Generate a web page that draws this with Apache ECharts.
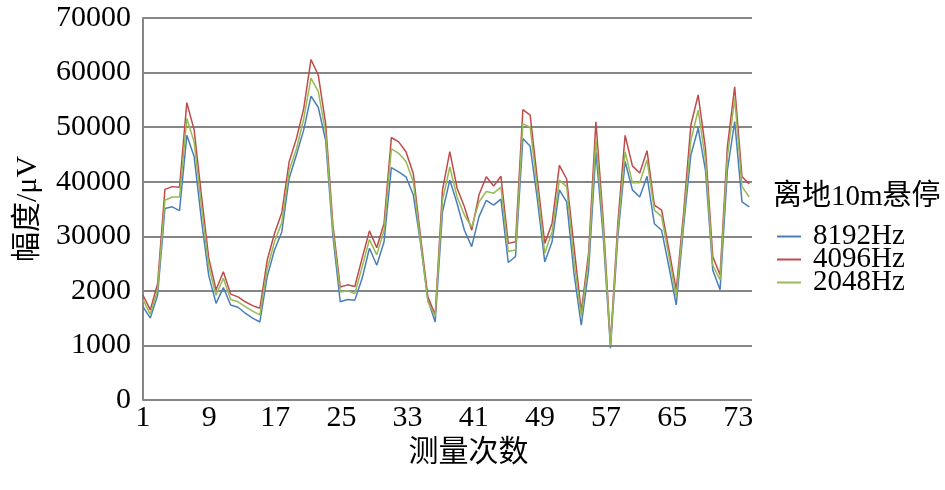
<!DOCTYPE html>
<html>
<head>
<meta charset="utf-8">
<script src="https://cdn.jsdelivr.net/npm/echarts@6/dist/echarts.min.js"></script>
<style>
html,body{margin:0;padding:0;background:#fff;}
#chart{width:945px;height:490px;}
</style>
</head>
<body>
<div id="chart"></div>
<script>
// measurement index of each sample
const measureIndex = [1,2,3,4,5,6,7,8,9,10,11,12,13,14,15,16,17,18,19,20,21,22,23,24,25,26,27,28,29,30,31,32,33,34,35,36,37,38,39,40,41,42,43,44,45,46,47,48,49,50,51,52,53,54,55,56,57,58,59,60,61,62,63,64,65,66,67,68,69,70,71,72,73,74,75,76,77,78,79,80,81,82,83,84];

const hz8192 = [17100,15000,19200,35100,35400,34700,48500,44600,33000,22800,17700,20600,17400,17000,15900,15000,14300,22600,27500,30800,40600,44900,49500,55700,53600,47600,30000,18000,18400,18300,22300,27800,24700,29000,42600,41800,40900,37600,28700,18300,14300,34500,40300,36000,31100,28100,33600,36600,35700,36800,25200,26300,47900,46500,36600,25300,29000,38500,36300,23200,13700,23800,45500,30000,9500,29900,43700,38500,37200,41000,32300,31100,24400,17400,31800,44900,49800,42100,23800,20200,42100,51000,36300,35400];
const hz4096 = [19200,16500,21300,38600,39100,39000,54500,49500,37500,26000,20200,23500,19400,18900,18000,17300,16800,25600,30500,34300,43600,47900,53400,62400,59500,50700,32000,20700,21100,20800,26000,31000,27900,32400,48100,47300,45500,41500,29900,18900,15600,38500,45500,38800,35400,31100,37600,40900,39200,41000,28700,29000,53200,52200,40300,28700,32400,43000,40500,28100,16200,26900,51000,33000,10400,32400,48500,42900,41600,45700,35700,34800,27500,20200,34200,50400,55900,46100,26300,22900,46400,57400,40900,39600];
const hz2048 = [18400,15700,20200,36600,37200,37200,51600,47300,35500,24500,19200,22300,18400,18000,17100,16300,15600,24000,29000,32500,42000,46000,51500,59000,56500,49000,31000,19800,20000,19500,24400,29400,26600,31100,46000,45200,43700,40000,29000,18000,15300,36600,42700,37200,33900,31700,36300,38200,37900,39000,27200,27500,50600,50000,38500,26900,30800,40300,39100,25500,15300,25700,47900,31500,10000,31100,45500,39800,39800,44000,34800,33600,26300,18900,33000,47600,53100,44000,24700,22000,44600,55300,39100,37200];

const seriesNames = ['8192Hz','4096Hz','2048Hz'];
const xTickLabels = ['1','9','17','25','33','41','49','57','65','73'];
const yTickLabels = ['0','1000','2000','30000','40000','50000','60000','70000'];
const legendTitle = '离地10m悬停';
const xName = '测量次数';
const yName = '幅度/μV';

const SERIF = '"Liberation Serif","Noto Sans CJK SC",serif';
const chart = echarts.init(document.getElementById('chart'), null, {renderer:'canvas'});

function pairs(vals){ return measureIndex.map((m,i)=>[m, vals[i]]); }

chart.setOption({
  animation:false,
  backgroundColor:'#fff',
  title:{
    text: legendTitle, left: 773, top: 183, padding:0,
    textStyle:{fontSize:29, fontWeight:'normal', color:'#000', fontFamily:SERIF}
  },
  legend:{
    orient:'vertical', left:777, top:222, padding:0, itemGap:-6,
    itemWidth:24, itemHeight:2, icon:'rect',
    data: seriesNames,
    textStyle:{fontSize:29, color:'#000', fontFamily:SERIF, padding:[0,0,0,7]}
  },
  grid:{left:143, right:193, top:18, bottom:90},
  xAxis:[
    {type:'value', position:'top', min:1, max:84.37, show:false, splitLine:{show:false}},
    {type:'value', position:'bottom', min:0, max:73.65, interval:8,
     axisLine:{show:false}, axisTick:{show:false}, splitLine:{show:false},
     axisLabel:{fontSize:30, color:'#000', fontFamily:SERIF, margin:3,
       showMaxLabel:true,
       formatter:(v)=>{ const k=Math.round(v/8); return (Math.abs(v-k*8)<1e-6 && xTickLabels[k]!==undefined)? xTickLabels[k] : ''; }},
     name:xName, nameLocation:'middle', nameGap:28,
     nameTextStyle:{fontSize:30, color:'#000', fontFamily:SERIF, padding:[0,0,0,42]}
    }
  ],
  yAxis:{
    type:'value', min:0, max:70000, interval:10000,
    axisLine:{show:true, lineStyle:{color:'#868686', width:2}},
    axisTick:{show:false},
    splitLine:{show:true, lineStyle:{color:'#868686', width:2}},
    axisLabel:{fontSize:30, color:'#000', fontFamily:SERIF, margin:12,
      formatter:(v)=>yTickLabels[Math.round(v/10000)]},
    name:yName, nameLocation:'middle', nameGap:100, nameRotate:90,
    nameTextStyle:{fontSize:30, color:'#000', fontFamily:SERIF}
  },
  series:[
    {name:seriesNames[0], type:'line', xAxisIndex:0, data:pairs(hz8192), showSymbol:false, symbol:'none',
     lineStyle:{color:'#4a7ebb', width:1.5}, itemStyle:{color:'#4a7ebb'}},
    {name:seriesNames[1], type:'line', xAxisIndex:0, data:pairs(hz4096), showSymbol:false, symbol:'none',
     lineStyle:{color:'#be4b48', width:1.5}, itemStyle:{color:'#be4b48'}},
    {name:seriesNames[2], type:'line', xAxisIndex:0, data:pairs(hz2048), showSymbol:false, symbol:'none',
     lineStyle:{color:'#98b954', width:1.5}, itemStyle:{color:'#98b954'}}
  ]
});
</script>
</body>
</html>
